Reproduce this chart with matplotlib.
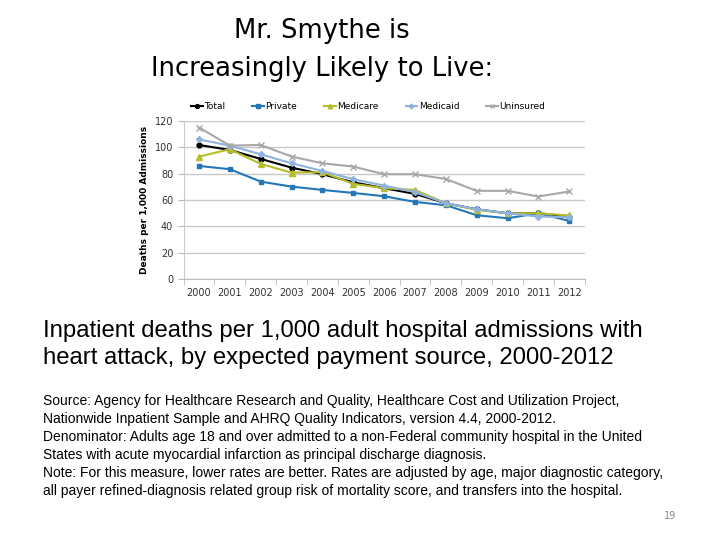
import matplotlib
matplotlib.use('Agg')
import matplotlib.pyplot as plt

years = ['2000', '2001', '2002', '2003', '2004', '2005', '2006',
         '2007', '2008', '2009', '2010', '2011', '2012']
total = [101.8, 98, 91.2, 84.6, 79.6, 73.5, 69, 64.7, 57.6, 53, 50, 50, 47.5]
private = [85.9, 83.4, 74, 70.2, 67.7, 65.4, 62.9, 58.6, 56.1, 48.5, 46.2, 50, 44.2]
medicare = [93, 98.5, 87.4, 80.8, 81.1, 72.3, 69, 67.7, 57.6, 52.5, 50, 50, 48.3]
medicaid = [106, 101.3, 94.7, 87.9, 82.1, 75.8, 71, 66, 57.6, 53, 50, 47.5, 47]
uninsured = [115, 101.3, 101.8, 93, 87.9, 85.4, 79.6, 79.6, 76, 67, 67, 62.7, 66.5]

fig = plt.figure(figsize=(7.2, 5.4), dpi=100)

# Title
fig.text(0.447, 0.907, 'Mr. Smythe is\nIncreasingly Likely to Live:',
         ha='center', va='center', fontsize=18.6, family='DejaVu Sans',
         linespacing=1.6)

# Chart
ax = fig.add_axes([0.255, 0.483, 0.557, 0.293])
x = range(len(years))
ax.plot(x, total, color='black', marker='o', markersize=3.5, lw=1.5, label='Total')
ax.plot(x, private, color='#2477b8', marker='s', markersize=3.5, lw=1.5, label='Private')
ax.plot(x, medicare, color='#b5bd2a', marker='^', markersize=4, lw=1.5, label='Medicare')
ax.plot(x, medicaid, color='#8fb3de', marker='D', markersize=3, lw=1.5, label='Medicaid')
ax.plot(x, uninsured, color='#a8a8a8', marker='x', markersize=4, lw=1.5, label='Uninsured')

ax.set_xlim(-0.5, len(years) - 0.5)
ax.set_ylim(0, 120)
ax.set_yticks(range(0, 121, 20))
ax.set_xticks(list(x))
ax.set_xticklabels(years)
ax.set_xticks([i + 0.5 for i in range(-1, len(years))], minor=True)
ax.tick_params(axis='x', which='major', length=0, labelsize=7, pad=6, colors='#333333')
ax.tick_params(axis='x', which='minor', length=4, color='#bbbbbb', direction='out')
ax.tick_params(axis='y', length=4, color='#bbbbbb', labelsize=7, colors='#333333')
ax.yaxis.grid(True, color='#c8c8c8', lw=1)
ax.set_axisbelow(True)
for s in ['top', 'right']:
    ax.spines[s].set_visible(False)
ax.spines['left'].set_color('#cccccc')
ax.spines['bottom'].set_color('#bbbbbb')
ax.set_ylabel('Deaths per 1,000 Admissions', fontsize=6.5, fontweight='bold', labelpad=4)
ax.legend(loc='lower center', bbox_to_anchor=(0.46, 1.01), ncol=5, frameon=False,
          fontsize=6.5, handlelength=1.3, columnspacing=3.0, handletextpad=0.15,
          markerscale=0.8)

# Subtitle
fig.text(0.06, 0.362, 'Inpatient deaths per 1,000 adult hospital admissions with\n'
         'heart attack, by expected payment source, 2000-2012',
         ha='left', va='center', fontsize=17.2, family='Liberation Sans',
         linespacing=1.26)

# Source notes
notes = ('Source: Agency for Healthcare Research and Quality, Healthcare Cost and Utilization Project,\n'
         'Nationwide Inpatient Sample and AHRQ Quality Indicators, version 4.4, 2000-2012.\n'
         'Denominator: Adults age 18 and over admitted to a non-Federal community hospital in the United\n'
         'States with acute myocardial infarction as principal discharge diagnosis.\n'
         'Note: For this measure, lower rates are better. Rates are adjusted by age, major diagnostic category,\n'
         'all payer refined-diagnosis related group risk of mortality score, and transfers into the hospital.')
fig.text(0.06, 0.174, notes, ha='left', va='center', fontsize=10,
         family='Liberation Sans', linespacing=1.38)

fig.text(0.93, 0.045, '19', ha='center', va='center', fontsize=7, color='#888888')

fig.savefig('out.png', dpi=100)
